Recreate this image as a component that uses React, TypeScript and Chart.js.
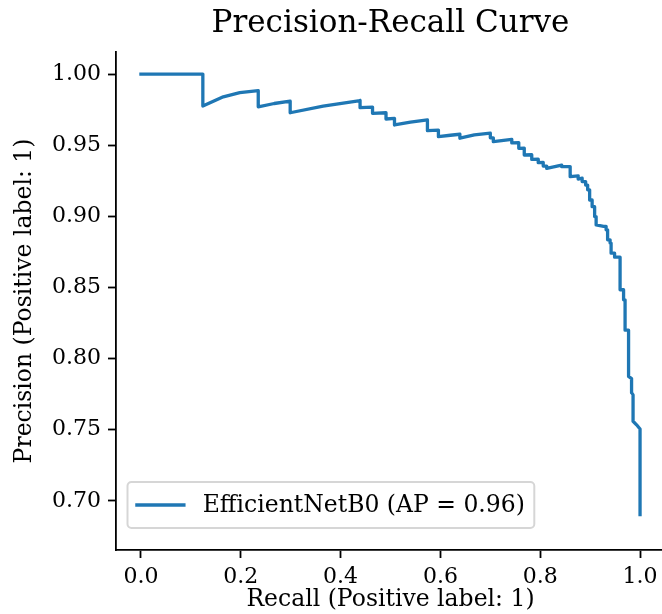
import React, { useEffect, useRef } from 'react';
import { Chart, registerables } from 'chart.js';

Chart.register(...registerables);

// ---- data ----
const recall = [
  0, 0.124, 0.124, 0.165, 0.198, 0.235, 0.235, 0.267, 0.299, 0.299,
  0.365, 0.439, 0.439, 0.464, 0.464, 0.491, 0.491, 0.508, 0.508, 0.540,
  0.574, 0.574, 0.596, 0.596, 0.620, 0.639, 0.639, 0.668, 0.700, 0.700,
  0.706, 0.706, 0.743, 0.743, 0.757, 0.757, 0.768, 0.768, 0.783, 0.783,
  0.796, 0.796, 0.806, 0.806, 0.813, 0.813, 0.843, 0.843, 0.860, 0.860,
  0.876, 0.876, 0.884, 0.884, 0.891, 0.891, 0.895, 0.895, 0.899, 0.899,
  0.904, 0.904, 0.909, 0.909, 0.912, 0.912, 0.927, 0.932, 0.932, 0.935,
  0.935, 0.940, 0.940, 0.942, 0.942, 0.949, 0.949, 0.960, 0.960, 0.967,
  0.967, 0.970, 0.970, 0.977, 0.977, 0.983, 0.983, 0.986, 0.986, 0.993,
  1.0, 1.0,
];
const precision = [
  1.0, 1.0, 0.9775, 0.984, 0.9869, 0.9883, 0.977, 0.9793, 0.9809, 0.9728,
  0.9775, 0.9814, 0.9764, 0.9768, 0.9724, 0.9728, 0.9684, 0.9688, 0.9642, 0.9662,
  0.9678, 0.9602, 0.9606, 0.956, 0.957, 0.9577, 0.9549, 0.9572, 0.9585, 0.9552,
  0.9552, 0.9525, 0.9541, 0.9516, 0.9518, 0.9478, 0.948, 0.9431, 0.9433, 0.94,
  0.9402, 0.9377, 0.9379, 0.9353, 0.9353, 0.9337, 0.936, 0.9349, 0.935, 0.9279,
  0.9285, 0.9262, 0.9268, 0.9244, 0.9244, 0.922, 0.922, 0.9186, 0.9186, 0.9115,
  0.9115, 0.9068, 0.9068, 0.8998, 0.8998, 0.894, 0.893, 0.893, 0.8905, 0.8905,
  0.8835, 0.8835, 0.8812, 0.8812, 0.8741, 0.8741, 0.8713, 0.8713, 0.8484, 0.8484,
  0.8413, 0.8413, 0.82, 0.82, 0.7875, 0.786, 0.776, 0.7745, 0.756, 0.7535,
  0.7505, 0.6904,
];
const xTickValues = [0, 0.2, 0.4, 0.6, 0.8, 1.0];
const yTickValues = [0.7, 0.75, 0.8, 0.85, 0.9, 0.95, 1.0];
const modelName = 'EfficientNetB0';
const averagePrecision = 0.96;
const chartTitle = 'Precision-Recall Curve';
const xLabel = 'Recall (Positive label: 1)';
const yLabel = 'Precision (Positive label: 1)';

// ---- styles ----
const FONT = "'DejaVu Serif', serif";
const BLUE = '#1f77b4';
const TEXT = '#000000';
const FS = 22; // tick labels
const LFS = 23.5; // axis labels and legend
const TITLE_FS = 31;

const titlePlugin = {
  id: 'mplTitle',
  afterDraw(chart: any) {
    const { ctx, chartArea } = chart;
    ctx.save();
    ctx.font = `${TITLE_FS}px ${FONT}`;
    ctx.fillStyle = TEXT;
    ctx.textAlign = 'center';
    ctx.textBaseline = 'alphabetic';
    ctx.fillText(chartTitle, (chartArea.left + chartArea.right) / 2, chartArea.top - 20);
    ctx.restore();
  },
};

const legendPlugin = {
  id: 'mplLegend',
  afterDatasetsDraw(chart: any) {
    const { ctx, chartArea } = chart;
    const ds = chart.data.datasets[0];
    ctx.save();
    ctx.font = `${LFS}px ${FONT}`;
    const textW = ctx.measureText(ds.label).width;
    const pad = 0.4 * LFS;
    const handleLen = 2 * LFS;
    const handleTextPad = 0.8 * LFS;
    const boxW = pad + handleLen + handleTextPad + textW + pad;
    const boxH = 46;
    const x0 = chartArea.left + 11.5;
    const y0 = chartArea.bottom - 22 - boxH;
    const r = 4;
    ctx.beginPath();
    ctx.moveTo(x0 + r, y0);
    ctx.lineTo(x0 + boxW - r, y0);
    ctx.arcTo(x0 + boxW, y0, x0 + boxW, y0 + r, r);
    ctx.lineTo(x0 + boxW, y0 + boxH - r);
    ctx.arcTo(x0 + boxW, y0 + boxH, x0 + boxW - r, y0 + boxH, r);
    ctx.lineTo(x0 + r, y0 + boxH);
    ctx.arcTo(x0, y0 + boxH, x0, y0 + boxH - r, r);
    ctx.lineTo(x0, y0 + r);
    ctx.arcTo(x0, y0, x0 + r, y0, r);
    ctx.closePath();
    ctx.fillStyle = 'rgba(255,255,255,0.8)';
    ctx.fill();
    ctx.strokeStyle = 'rgba(204,204,204,0.8)';
    ctx.lineWidth = 2;
    ctx.stroke();
    const cy = y0 + boxH / 2;
    ctx.beginPath();
    ctx.moveTo(x0 + pad, cy);
    ctx.lineTo(x0 + pad + handleLen, cy);
    ctx.strokeStyle = ds.borderColor;
    ctx.lineWidth = ds.borderWidth;
    ctx.lineCap = 'square';
    ctx.stroke();
    ctx.fillStyle = TEXT;
    ctx.textAlign = 'left';
    ctx.textBaseline = 'middle';
    ctx.fillText(ds.label, x0 + pad + handleLen + handleTextPad, cy + 1);
    ctx.restore();
  },
};

export default function App() {
  const canvasRef = useRef<HTMLCanvasElement | null>(null);

  useEffect(() => {
    const canvas = canvasRef.current;
    if (!canvas) return;
    const points = recall.map((r, i) => ({ x: r, y: precision[i] }));
    const axisCommon = {
      type: 'linear' as const,
      grid: {
        drawOnChartArea: false,
        drawTicks: true,
        tickLength: 8,
        tickWidth: 1.8,
        tickColor: '#000',
      },
      border: { display: true, color: '#000', width: 1.8 },
    };
    const chart = new Chart(canvas, {
      type: 'line',
      data: {
        datasets: [
          {
            label: `${modelName} (AP = ${averagePrecision.toFixed(2)})`,
            data: points,
            borderColor: BLUE,
            backgroundColor: BLUE,
            borderWidth: 3.3,
            pointRadius: 0,
            fill: false,
            tension: 0,
            borderJoinStyle: 'round',
            borderCapStyle: 'square',
          },
        ],
      },
      options: {
        animation: false,
        responsive: false,
        devicePixelRatio: 1,
        layout: { padding: { top: 52, right: 5, bottom: 0, left: 0 } },
        plugins: {
          legend: { display: false },
          tooltip: { enabled: false },
          title: { display: false },
        },
        scales: {
          x: {
            ...axisCommon,
            min: -0.05,
            max: 1.05,
            afterBuildTicks: (s: any) => {
              s.ticks = xTickValues.map((v) => ({ value: v }));
            },
            afterFit: (s: any) => {
              s.height = 64;
            },
            ticks: {
              callback: (v: any) => Number(v).toFixed(1),
              font: { family: FONT, size: FS },
              color: TEXT,
              padding: 6,
              maxRotation: 0,
              autoSkip: false,
            },
            title: {
              display: true,
              text: xLabel,
              font: { family: FONT, size: LFS },
              color: TEXT,
              padding: { top: 0, bottom: 0 },
            },
          },
          y: {
            ...axisCommon,
            min: 0.6655,
            max: 1.0155,
            afterBuildTicks: (s: any) => {
              s.ticks = yTickValues.map((v) => ({ value: v }));
            },
            afterFit: (s: any) => {
              s.width = 116;
            },
            ticks: {
              callback: (v: any) => Number(v).toFixed(2),
              font: { family: FONT, size: FS },
              color: TEXT,
              padding: 7,
              autoSkip: false,
            },
            title: {
              display: true,
              text: yLabel,
              font: { family: FONT, size: LFS },
              color: TEXT,
              padding: { top: 11, bottom: 0 },
            },
          },
        },
      },
      plugins: [titlePlugin, legendPlugin],
    } as any);
    return () => chart.destroy();
  }, []);

  return (
    <div
      style={{
        position: 'fixed',
        left: 0,
        top: 0,
        width: 662,
        height: 614,
        overflow: 'hidden',
        background: '#fff',
      }}
    >
      <canvas ref={canvasRef} width={670} height={614} style={{ display: 'block' }} />
    </div>
  );
}
